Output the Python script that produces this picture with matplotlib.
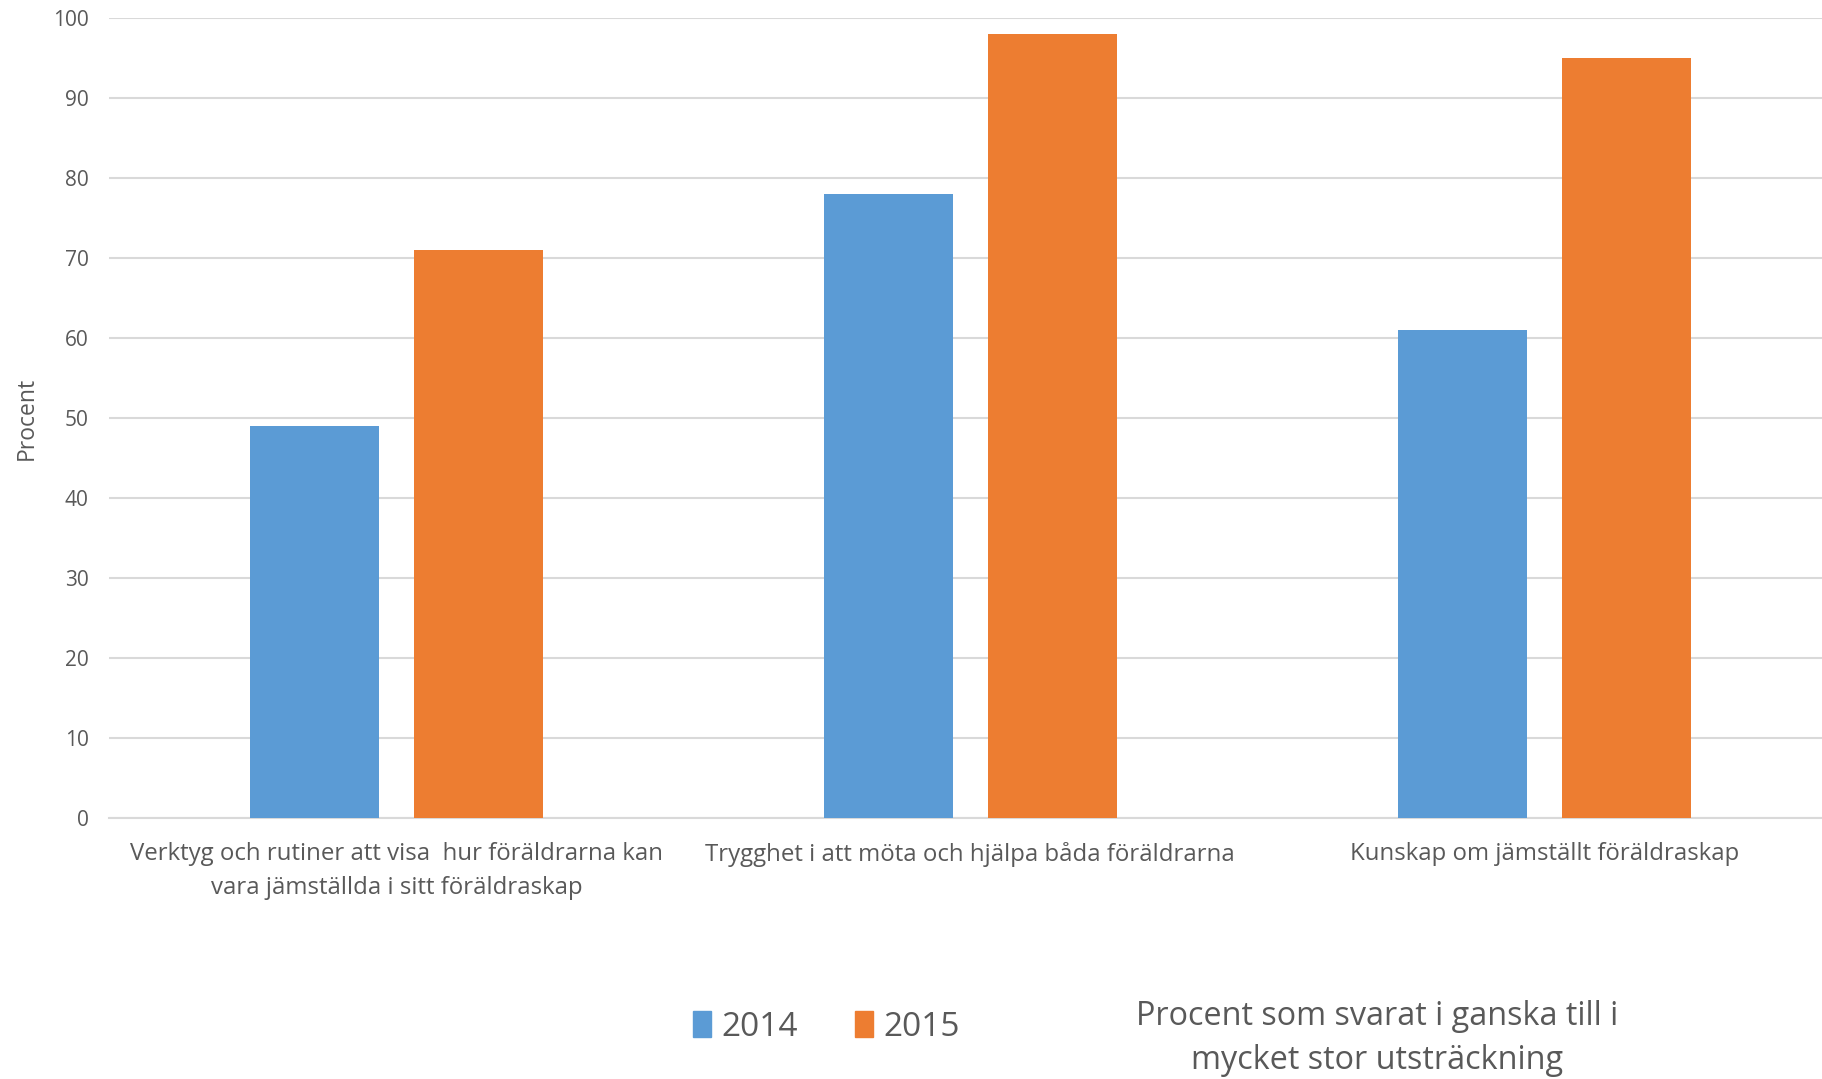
import numpy as np
import matplotlib.pyplot as plt
from matplotlib.patches import Patch

# data
categories = ["Verktyg och rutiner att visa  hur föräldrarna kan\nvara jämställda i sitt föräldraskap",
              "Trygghet i att möta och hjälpa båda föräldrarna",
              "Kunskap om jämställt föräldraskap"]
years = ["2014", "2015"]
values_2014 = [49, 78, 61]
values_2015 = [71, 98, 95]
yticks = np.arange(0, 101, 10)

blue = "#5B9BD5"
orange = "#ED7D31"
grey = "#595959"
plt.rcParams['font.family'] = ['Open Sans', 'DejaVu Sans']

fig = plt.figure(figsize=(18.22, 10.79), dpi=100)
# right edge of the plot runs a little past the picture, as in the reference
ax = fig.add_axes([0.06, 0.2419, 0.9451, 0.7414])

x = np.arange(len(categories))
w = 0.2245
off = 0.1428
ax.bar(x - off, values_2014, w, color=blue, zorder=3)
ax.bar(x + off, values_2015, w, color=orange, zorder=3)

ax.set_xlim(-0.5, 2.5)
ax.set_ylim(0, 100)
ax.set_yticks(yticks)
ax.yaxis.grid(True, color="#D9D9D9", lw=1.5, zorder=0)
for s in ["top", "right", "left"]:
    ax.spines[s].set_visible(False)
ax.spines["bottom"].set_color("#D9D9D9")
ax.spines["bottom"].set_linewidth(1.5)
ax.tick_params(axis="y", length=0, pad=15, labelsize=15, labelcolor=grey)
ax.tick_params(axis="x", length=0, pad=17, labelsize=17.3, labelcolor=grey)
ax.set_xticks(x)
ax.set_xticklabels(categories, linespacing=1.55)
ax.set_ylabel("Procent", fontsize=16.5, color=grey, labelpad=10)

handles = [Patch(color=blue, label=years[0]), Patch(color=orange, label=years[1])]
fig.legend(handles=handles, loc="center", bbox_to_anchor=(0.4535, 0.048), ncol=2,
           frameon=False, fontsize=24, handlelength=0.55, handleheight=0.85,
           handletextpad=0.3, columnspacing=1.7, labelcolor=grey)

fig.text(0.756, 0.0375, "Procent som svarat i ganska till i\nmycket stor utsträckning",
         ha="center", va="center", fontsize=23.3, color=grey, linespacing=1.42)

fig.savefig("out.png", dpi=100)
